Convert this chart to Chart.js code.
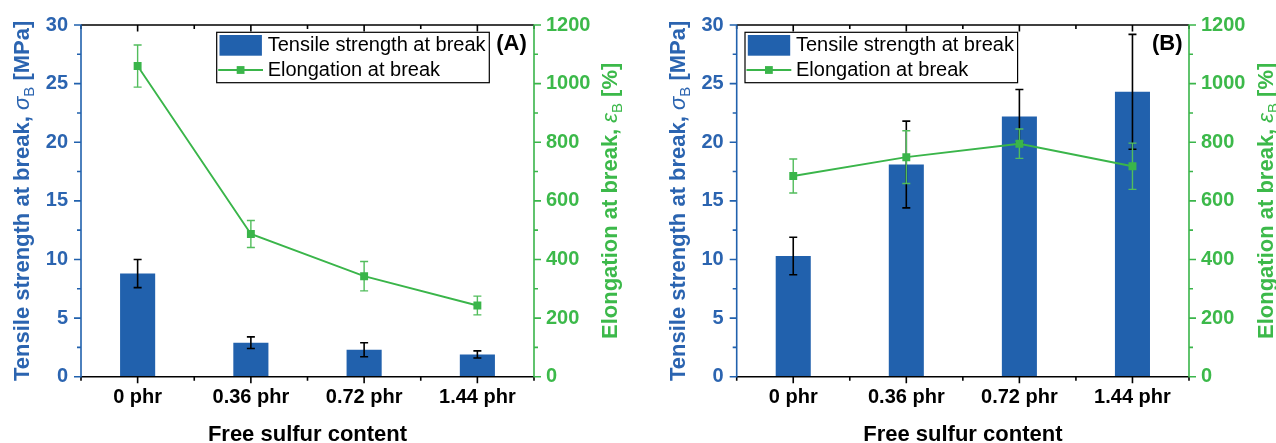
<!DOCTYPE html>
<html>
<head>
<meta charset="utf-8">
<script src="https://cdn.jsdelivr.net/npm/chart.js@4.4.1/dist/chart.umd.min.js"></script>
<style>
    html, body { margin: 0; padding: 0; background: #fff; overflow: hidden; }
    #wrap { position: relative; width: 1276px; height: 443px; }
    #wrap canvas { position: absolute; top: 0; }
</style>
</head>
<body>
<div id="wrap">
    <canvas id="panelA" width="638" height="443" style="left:0"></canvas>
    <canvas id="panelB" width="638" height="443" style="left:638px"></canvas>
</div>
<script>
// ============================================================
// DATA
// ============================================================
const categories = ['0 phr', '0.36 phr', '0.72 phr', '1.44 phr'];

// (A)
const tensileA = [8.8, 2.9, 2.3, 1.9];
const tensileErrA = [1.2, 0.5, 0.6, 0.3];
const elongA = [1060, 487, 343, 243];
const elongErrA = [72, 46, 50, 32];

// (B)
const tensileB = [10.3, 18.1, 22.2, 24.3];
const tensileErrB = [1.6, 3.7, 2.3, 4.9];
const elongB = [685, 749, 795, 718];
const elongErrB = [58, 90, 50, 79];

// axis ranges
const tensileRange = { min: 0, max: 30, step: 5, minor: 2.5 };
const elongRange = { min: 0, max: 1200, step: 200, minor: 100 };

// ============================================================
// STYLE
// ============================================================
const FONT = "'Liberation Sans', Arial, sans-serif";
const BLUE = '#2161ad';
const BLUE_TEXT = '#2b64b0';
const GREEN = '#3ab54a';
const GREEN_ERR = '#52bd5c';
const GREEN_TEXT = '#3cb94a';

// ============================================================
// PLUGINS
// ============================================================

// error bars, drawn through the chart's own scales
const errorBars = {
    id: 'errorBars',
    afterDatasetDraw(chart, args) {
        const ds = chart.data.datasets[args.index];
        if (ds.type === 'bar') drawErrors(chart, args.meta, ds, '#000', 1.6);
    },
    beforeDatasetDraw(chart, args) {
        const ds = chart.data.datasets[args.index];
        if (ds.type === 'line') drawErrors(chart, args.meta, ds, GREEN_ERR, 1.4);
    }
};

function drawErrors(chart, meta, ds, color, width) {
    const ctx = chart.ctx;
    const yScale = chart.scales[ds.yAxisID];
    const xScale = chart.scales.x;
    ctx.save();
    ctx.strokeStyle = color;
    ctx.lineWidth = width;
    ds.data.forEach((v, i) => {
        const x = xScale.getPixelForValue(i);
        const hi = yScale.getPixelForValue(v + ds.errors[i]);
        const lo = yScale.getPixelForValue(v - ds.errors[i]);
        ctx.beginPath();
        ctx.moveTo(x, hi); ctx.lineTo(x, lo);
        ctx.moveTo(x - 4, hi); ctx.lineTo(x + 4, hi);
        ctx.moveTo(x - 4, lo); ctx.lineTo(x + 4, lo);
        ctx.stroke();
    });
    ctx.restore();
}

// axis frame, tick marks, titles, legend box and panel tag
const frame = {
    id: 'frame',
    afterDraw(chart, args, opts) {
        const ctx = chart.ctx;
        const { left, right, top, bottom } = chart.chartArea;
        const x = chart.scales.x, y = chart.scales.y, y1 = chart.scales.y1;
        ctx.save();

        // top / bottom frame lines
        ctx.strokeStyle = '#000';
        ctx.lineWidth = 1.6;
        ctx.beginPath();
        ctx.moveTo(left, top); ctx.lineTo(right, top);
        ctx.moveTo(left, bottom); ctx.lineTo(right, bottom);
        ctx.stroke();

        // category ticks: major at centres, minor at boundaries
        ctx.beginPath();
        for (let i = -0.5; i <= categories.length - 0.5; i += 0.5) {
            const px = x.getPixelForValue(i);
            const len = Number.isInteger(i) ? 6.5 : 4;
            ctx.moveTo(px, bottom); ctx.lineTo(px, bottom + len);
            ctx.moveTo(px, top); ctx.lineTo(px, top + len);
        }
        ctx.stroke();

        // left axis
        ctx.strokeStyle = BLUE;
        ctx.lineWidth = 1.6;
        ctx.beginPath();
        ctx.moveTo(left, bottom + 0.8); ctx.lineTo(left, top - 0.8);
        for (let v = tensileRange.min; v <= tensileRange.max; v += tensileRange.minor) {
            const py = y.getPixelForValue(v);
            const len = v % tensileRange.step === 0 ? 7 : 4;
            ctx.moveTo(left, py); ctx.lineTo(left - len, py);
        }
        ctx.stroke();

        // right axis
        ctx.strokeStyle = GREEN;
        ctx.beginPath();
        ctx.moveTo(right, bottom + 0.8); ctx.lineTo(right, top - 0.8);
        for (let v = elongRange.min; v <= elongRange.max; v += elongRange.minor) {
            const py = y1.getPixelForValue(v);
            const len = v % elongRange.step === 0 ? 7 : 4;
            ctx.moveTo(right, py); ctx.lineTo(right + len, py);
        }
        ctx.stroke();

        const midY = (top + bottom) / 2;

        // left title
        drawRich(ctx, opts.leftTitleX, midY, BLUE_TEXT, [
            { t: 'Tensile strength at break, ', f: 'bold 22px' },
            { t: '\u03C3', f: 'italic 22px' },
            { t: 'B', f: '15px', dy: 5 },
            { t: ' [MPa]', f: 'bold 22px' }
        ]);

        // right title
        drawRich(ctx, opts.rightTitleX, midY, GREEN_TEXT, [
            { t: 'Elongation at break, ', f: 'bold 22px' },
            { t: '\u03B5', f: 'italic 22px' },
            { t: 'B', f: '15px', dy: 5 },
            { t: ' [%]', f: 'bold 22px' }
        ]);

        // x title
        ctx.fillStyle = '#000';
        ctx.font = 'bold 22px ' + FONT;
        ctx.textAlign = 'center';
        ctx.textBaseline = 'alphabetic';
        ctx.fillText('Free sulfur content', (left + right) / 2, 441);

        // panel tag
        ctx.font = 'bold 22px ' + FONT;
        ctx.textBaseline = 'middle';
        ctx.fillText(opts.tag, opts.tagX, 44);

        // legend
        const lx = opts.legendX, ly = 32.3, lw = 272.6, lh = 50.4;
        ctx.fillStyle = '#fff';
        ctx.fillRect(lx, ly, lw, lh);
        ctx.strokeStyle = '#000';
        ctx.lineWidth = 1.2;
        ctx.strokeRect(lx, ly, lw, lh);
        ctx.fillStyle = BLUE;
        ctx.fillRect(lx + 2.8, ly + 2.7, 42.4, 20.7);
        ctx.strokeStyle = GREEN;
        ctx.lineWidth = 1.8;
        ctx.beginPath();
        ctx.moveTo(lx + 1.5, ly + 37.7); ctx.lineTo(lx + 46.3, ly + 37.7);
        ctx.stroke();
        ctx.fillStyle = GREEN;
        ctx.fillRect(lx + 23.9 - 3.9, ly + 37.7 - 3.9, 7.8, 7.8);
        ctx.fillStyle = '#000';
        ctx.font = '20px ' + FONT;
        ctx.textAlign = 'left';
        ctx.textBaseline = 'middle';
        ctx.fillText(chart.data.datasets[1].label, lx + 51, ly + 13.5);
        ctx.fillText(chart.data.datasets[0].label, lx + 51, ly + 38.5);

        ctx.restore();
    }
};

// rotated title made of runs (bold text, italic symbol, subscript)
function drawRich(ctx, bx, cy, color, runs) {
    ctx.save();
    ctx.fillStyle = color;
    ctx.textAlign = 'left';
    ctx.textBaseline = 'alphabetic';
    let total = 0;
    runs.forEach(r => {
        ctx.font = r.f + ' ' + FONT;
        r.w = ctx.measureText(r.t).width;
        total += r.w;
    });
    ctx.translate(bx, cy);
    ctx.rotate(-Math.PI / 2);
    let cx = -total / 2;
    runs.forEach(r => {
        ctx.font = r.f + ' ' + FONT;
        ctx.fillText(r.t, cx, r.dy || 0);
        cx += r.w;
    });
    ctx.restore();
}

// ============================================================
// CHART FACTORY
// ============================================================
function makePanel(id, cfg) {
    const tickFont = { family: FONT, size: 20, weight: 'bold' };
    return new Chart(document.getElementById(id), {
        data: {
            labels: categories,
            datasets: [
                {
                    type: 'line',
                    label: 'Elongation at break',
                    data: cfg.elong,
                    errors: cfg.elongErr,
                    yAxisID: 'y1',
                    borderColor: GREEN,
                    backgroundColor: GREEN,
                    borderWidth: 1.9,
                    tension: 0,
                    pointStyle: 'rect',
                    pointRadius: 5.6,
                    pointBorderWidth: 0,
                    order: 0
                },
                {
                    type: 'bar',
                    label: 'Tensile strength at break',
                    data: cfg.tensile,
                    errors: cfg.tensileErr,
                    yAxisID: 'y',
                    backgroundColor: BLUE,
                    categoryPercentage: 1,
                    barPercentage: 0.31,
                    order: 1
                }
            ]
        },
        options: {
            responsive: false,
            animation: false,
            events: [],
            layout: { padding: { top: 23, left: 0, right: 0, bottom: 0 } },
            plugins: {
                legend: { display: false },
                tooltip: { enabled: false },
                title: { display: false },
                frame: cfg.frame
            },
            scales: {
                x: {
                    type: 'category',
                    offset: true,
                    grid: { display: false, drawTicks: false },
                    border: { display: false },
                    ticks: { font: tickFont, color: '#000', padding: 9, maxRotation: 0 },
                    afterFit: s => { s.height = 66.3; }
                },
                y: {
                    position: 'left',
                    min: tensileRange.min,
                    max: tensileRange.max,
                    grid: { display: false, drawTicks: false },
                    border: { display: false },
                    ticks: {
                        stepSize: tensileRange.step, font: tickFont, color: BLUE_TEXT, padding: 13,
                        callback: v => String(v)
                    },
                    afterFit: s => { s.width = cfg.leftW; }
                },
                y1: {
                    position: 'right',
                    min: elongRange.min,
                    max: elongRange.max,
                    grid: { display: false, drawTicks: false },
                    border: { display: false },
                    ticks: {
                        stepSize: elongRange.step, font: tickFont, color: GREEN_TEXT, padding: 12,
                        callback: v => String(v)
                    },
                    afterFit: s => { s.width = cfg.rightW; }
                }
            }
        },
        plugins: [errorBars, frame]
    });
}

makePanel('panelA', {
    tensile: tensileA, tensileErr: tensileErrA,
    elong: elongA, elongErr: elongErrA,
    leftW: 81, rightW: 104,
    frame: { tag: '(A)', tagX: 511.5, legendX: 216.7, leftTitleX: 29.3, rightTitleX: 616.7 }
});

makePanel('panelB', {
    tensile: tensileB, tensileErr: tensileErrB,
    elong: elongB, elongErr: elongErrB,
    leftW: 98.7, rightW: 87,
    frame: { tag: '(B)', tagX: 529.3, legendX: 107, leftTitleX: 47, rightTitleX: 634.7 }
});
</script>
</body>
</html>
